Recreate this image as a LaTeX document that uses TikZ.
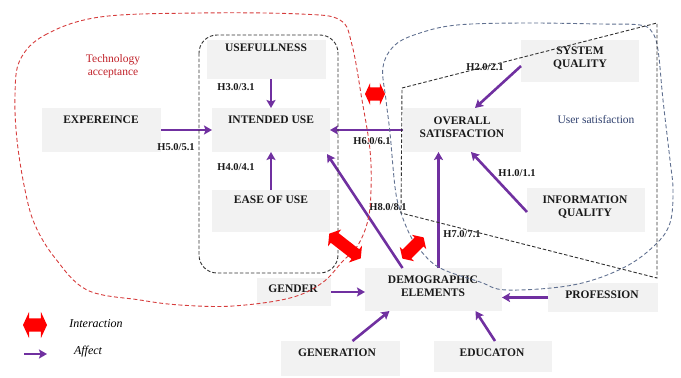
\documentclass[tikz,border=0pt]{standalone}
\usepackage{fontspec}
\setmainfont{Liberation Serif}
\usetikzlibrary{arrows.meta,shapes.arrows}
\definecolor{boxgray}{RGB}{242,242,242}
\definecolor{purp}{RGB}{112,48,160}
\definecolor{reddash}{RGB}{214,60,60}
\definecolor{bluedash}{RGB}{96,112,144}
\definecolor{techred}{RGB}{192,32,40}
\definecolor{usrblue}{RGB}{47,64,110}
\definecolor{blackdash}{RGB}{50,50,50}
\tikzset{
  box/.style={fill=boxgray, draw=none, inner sep=0pt, outer sep=0pt},
  btxt/.style={font=\fontsize{11.5}{13.5}\selectfont\bfseries, align=center, inner sep=0pt, text=black!90},
  hl/.style={font=\fontsize{10.5}{12}\selectfont\bfseries, inner sep=0pt, text=black!90},
  aff/.style={draw=purp, line width=2.6pt, -{Stealth[length=8pt,width=9pt,inset=1.5pt]}},
  dblarr/.style={double arrow, fill=red, draw=none, inner xsep=0pt, inner ysep=6.5pt, outer sep=0pt, text height=0pt, text depth=0pt, double arrow head extend=4.5pt, double arrow tip angle=130},
  dreg/.style={line width=0.9pt, dash pattern=on 4pt off 2.5pt},
}
\begin{document}
\begin{tikzpicture}[x=1pt,y=-1pt]
\useasboundingbox (0,0) rectangle (681,378);

% boxes
\node[box, minimum width=119pt, minimum height=39pt] (use) at (266.5,59.5) {};
\node[box, minimum width=118pt, minimum height=44pt] (iu) at (271,130) {};
\node[box, minimum width=119pt, minimum height=44pt] (exp) at (101.5,130) {};
\node[box, minimum width=118pt, minimum height=42pt] (ease) at (271,211) {};
\node[box, minimum width=118pt, minimum height=44pt] (os) at (462,130) {};
\node[box, minimum width=118pt, minimum height=42pt] (sq) at (580,61) {};
\node[box, minimum width=118pt, minimum height=44pt] (iq) at (586,210) {};
\node[box, minimum width=137pt, minimum height=43pt] (dem) at (433.5,289.5) {};
\node[box, minimum width=110pt, minimum height=29pt] (prof) at (603,297.5) {};
\node[box, minimum width=118pt, minimum height=31pt] (edu) at (493,356.5) {};
\node[box, minimum width=119pt, minimum height=35pt] (gen) at (340.5,358.5) {};
\node[box, minimum width=74pt, minimum height=28pt] (gnd) at (294,292) {};

% box texts
\node[btxt] (tuse) at (266,48) {USEFULLNESS};
\node[btxt] (tiu) at (271,120) {INTENDED USE};
\node[btxt] (texp) at (101,120) {EXPEREINCE};
\node[btxt] (tease) at (271,200) {EASE OF USE};
\node[btxt] (tos) at (462,127) {OVERALL\\SATISFACTION};
\node[btxt] (tsq) at (580,58) {SYSTEM\\QUALITY};
\node[btxt] (tiq) at (585,207) {INFORMATION\\QUALITY};
\node[btxt] (tdem) at (433,286) {DEMOGRAPHIC\\ELEMENTS};
\node[btxt] (tprof) at (602,295) {PROFESSION};
\node[btxt] (tedu) at (492,353) {EDUCATON};
\node[btxt] (tgen) at (337,353) {GENERATION};
\node[btxt] (tgnd) at (293,289) {GENDER};

% region labels
\node[font=\fontsize{11.5}{13.5}\selectfont, text=techred, align=center, inner sep=0pt] (tta) at (113,66) {Technology\\acceptance};
\node[font=\fontsize{11.5}{13.5}\selectfont, text=usrblue, inner sep=0pt] (tus) at (596,120) {User satisfaction};

% affect arrows
\draw[aff] (use.south -| iu.north) -- (iu.north);
\draw[aff] (exp.east) -- (iu.west);
\draw[aff] (ease.north) -- (iu.south);
\draw[aff] (os.west) -- (iu.east);
\draw[aff] ([yshift=-5pt]sq.west) -- ([xshift=13pt]os.north);
\draw[aff] ([yshift=-2pt]iq.west) -- ([xshift=9pt]os.south);
\draw[aff] ([xshift=5pt]dem.north) -- ([xshift=5pt]dem.north |- os.south);
\draw[aff] ([xshift=-31pt]dem.north) -- ([xshift=-3pt,yshift=-2pt]iu.south east);
\draw[aff] (gnd.east) -- (dem.west |- gnd.east);
\draw[aff] ([xshift=12pt]gen.north) -- ([xshift=-44pt]dem.south);
\draw[aff] ([xshift=2pt]edu.north) -- ([xshift=42pt]dem.south);
\draw[aff] (prof.west) -- (dem.east |- prof.west);

% hypothesis labels
\node[hl] (h3) at (236,87) {H3.0/3.1};
\node[hl] (h5) at (176,147) {H5.0/5.1};
\node[hl] (h4) at (236,167) {H4.0/4.1};
\node[hl] (h6) at (372,141) {H6.0/6.1};
\node[hl] (h2) at (485,67) {H2.0/2.1};
\node[hl] (h1) at (517,173) {H1.0/1.1};
\node[hl] (h8) at (388,207) {H8.0/8.1};
\node[hl] (h7) at (462,234) {H7.0/7.1};

% dashed regions
\draw[reddash, dreg] plot[smooth cycle, tension=0.6] coordinates {
 (20,60) (45,35) (100,17) (200,13) (300,14) (340,20) (352,45) (362,100) (370,150)
 (371,190) (368,220) (358,245) (342,262) (322,283) (290,298) (233,306) (180,305)
 (140,300) (87,290) (55,258) (35,225) (25,190) (17,140) (15,95)};
\draw[bluedash, dreg] plot[smooth cycle, tension=0.6] coordinates {
 (383,67) (395,45) (420,33) (457,25) (523,23) (600,24) (640,25) (652,32) (658,50)
 (663,100) (670,160) (673,190) (670,223) (655,245) (623,268) (573,285) (507,290)
 (480,282) (440,268) (420,250) (410,235) (400,210) (395,187) (390,133) (386,100)};
\draw[blackdash, dreg, dash pattern=on 3.5pt off 2pt, rounded corners=18pt] (199,35) rectangle (338,273);
\draw[blackdash, dreg, dash pattern=on 3.5pt off 2pt] (402,88) -- (657,23) -- (657,278) -- (401,213) -- cycle;

% interaction arrows
\node[dblarr, minimum height=20pt] (ia1) at (375,94) {};
\node[dblarr, minimum height=40pt, inner ysep=6pt, double arrow tip angle=115, rotate=-38] (ia2) at (345,246) {};
\node[dblarr, minimum height=30pt, inner ysep=6pt, double arrow head extend=4pt, double arrow tip angle=115, rotate=45] (ia3) at (413,248) {};

% legend
\node[dblarr, minimum height=24pt, double arrow head extend=6.5pt] (legi) at (35,325) {};
\node[font=\fontsize{12}{14}\selectfont\itshape, inner sep=0pt] (tint) at (96,324) {Interaction};
\coordinate (la1) at (24,354);
\coordinate (la2) at (47,354);
\draw[aff, line width=2.4pt] (la1) -- (la2);
\node[font=\fontsize{12}{14}\selectfont\itshape, inner sep=0pt] (taff) at (88,352) {Affect};
\end{tikzpicture}
\end{document}
